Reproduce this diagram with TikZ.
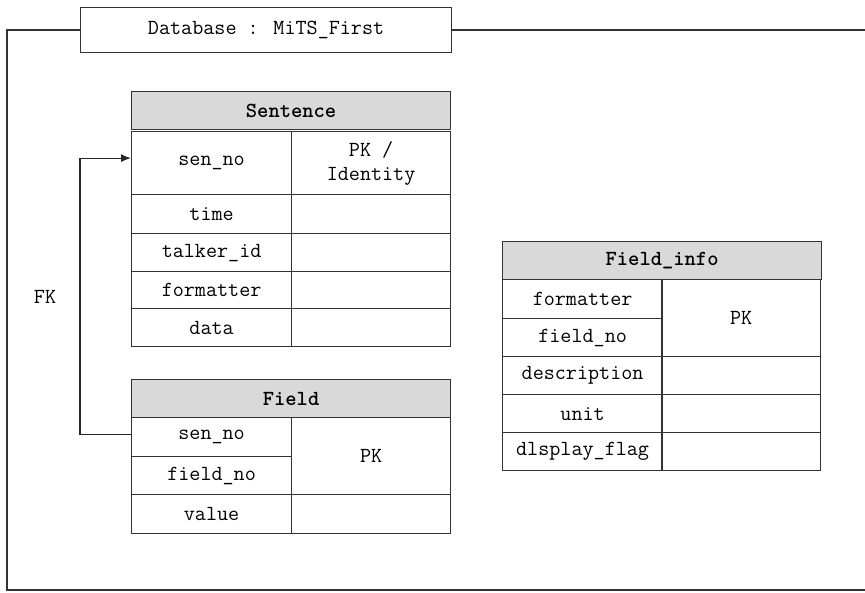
\documentclass[tikz,border=0pt]{standalone}
\usepackage{fontspec}
\usepackage{tikz}
\usetikzlibrary{arrows.meta}

\begin{document}
\begin{tikzpicture}[x=1pt, y=-1pt, font=\ttfamily\fontsize{21.5}{24}\selectfont,
  cell/.style={draw=black!80, line width=1.2pt, rectangle, inner sep=0pt, anchor=north west, minimum width=160, minimum height=38, align=center},
  head/.style={cell, fill=black!15, minimum width=319, font=\ttfamily\bfseries\fontsize{21.5}{24}\selectfont},
  n/.style={-{Latex[length=10pt, width=8pt]}, line width=1.2pt, draw=black!85}]
                \useasboundingbox (0,0) rectangle (865,592);
                % frame
                \draw[line width=1.2pt, black!80] (866,30) -- (7,30) -- (7,590) -- (866,590);
                \node[cell, fill=white, minimum width=371, minimum height=45] (db) at (80,7) {Database : MiTS\_First};
                % Sentence
                \node[head] (sen) at (131,91) {Sentence};
                \node[cell, minimum height=63] (ssen) at (131,131) {sen\_no};
                \node[cell, minimum width=159, minimum height=63] (ssenk) at (291,131) {PK /\\Identity};
                \node[cell, minimum height=39] (stime) at (131,194) {time};
                \node[cell, minimum width=159, minimum height=39] (stimek) at (291,194) {};
                \node[cell] (stalk) at (131,233) {talker\_id};
                \node[cell, minimum width=159] (stalkk) at (291,233) {};
                \node[cell, minimum height=37] (sform) at (131,271) {formatter};
                \node[cell, minimum width=159, minimum height=37] (sformk) at (291,271) {};
                \node[cell] (sdata) at (131,308) {data};
                \node[cell, minimum width=159] (sdatak) at (291,308) {};
                % Field
                \node[head] (fld) at (131,379) {Field};
                \node[cell, minimum height=39] (fsen) at (131,417) {sen\_no};
                \node[cell] (fno) at (131,456) {field\_no};
                \node[cell, minimum width=159, minimum height=77] (fpk) at (291,417) {PK};
                \node[cell, minimum height=39] (fval) at (131,494) {value};
                \node[cell, minimum width=159, minimum height=39] (fvalk) at (291,494) {};
                % Field_info
                \node[head] (inf) at (502,241) {Field\_info};
                \node[cell, minimum height=39] (iform) at (502,279) {formatter};
                \node[cell] (ino) at (502,318) {field\_no};
                \node[cell, minimum width=159, minimum height=77] (ipk) at (661,279) {PK};
                \node[cell] (idesc) at (502,356) {description};
                \node[cell, minimum width=159] (idesck) at (661,356) {};
                \node[cell] (iunit) at (502,394) {unit};
                \node[cell, minimum width=159] (iunitk) at (661,394) {};
                \node[cell] (iflag) at (502,432) {dlsplay\_flag};
                \node[cell, minimum width=159] (iflagk) at (661,432) {};
                % edges
                \node (fk) at (45,297) {FK};
                \draw[n] ([yshift=3]fsen.west) -- ++(-51,0) |- ([yshift=5]ssen.west);
            \end{tikzpicture}
\end{document}
